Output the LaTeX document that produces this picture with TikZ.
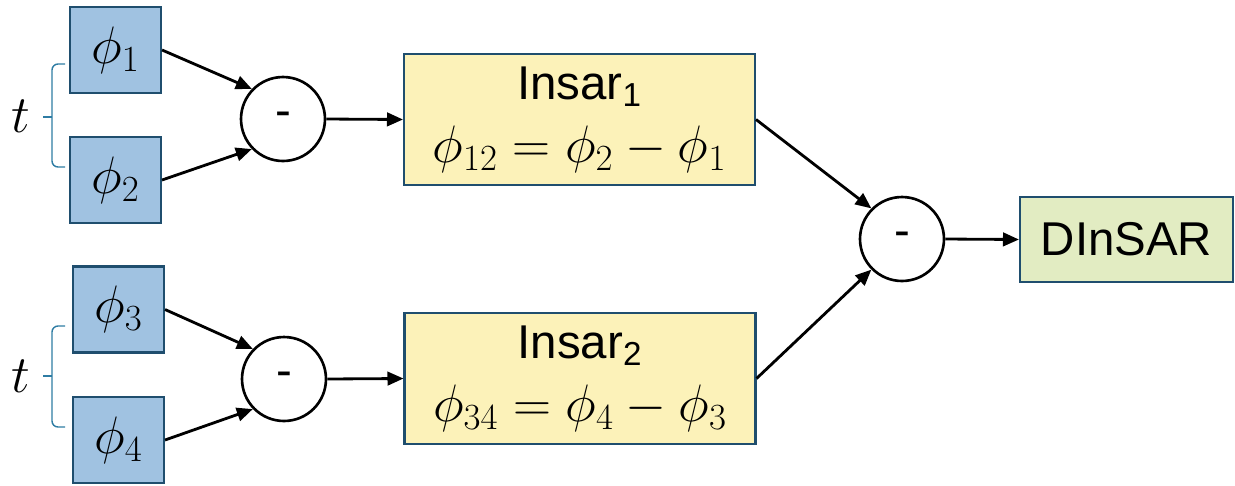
\RequirePackage{fix-cm}
\documentclass[tikz,border=0pt]{standalone}
\usepackage[no-math]{fontspec}
\newfontfamily\arialf{Liberation Sans}
\usetikzlibrary{arrows.meta}
\definecolor{bluefill}{HTML}{A0C2E1}
\definecolor{edgeblue}{HTML}{1F4E6E}
\definecolor{yellowfill}{HTML}{FCF2B9}
\definecolor{greenfill}{HTML}{E2ECC2}
\definecolor{bracecol}{HTML}{2E7CA3}
\newcommand{\mathbig}{\fontsize{30}{36}\selectfont}
\begin{document}
\begin{tikzpicture}[x=0.02cm,y=-0.02cm,
  bigfont/.style={font=\mathbig},
  phibox/.style={draw=edgeblue,fill=bluefill,line width=1.2pt,minimum width=1.82cm,minimum height=1.72cm,inner sep=0pt,bigfont},
  insarbox/.style={draw=edgeblue,fill=yellowfill,line width=1.2pt,minimum width=7.02cm,minimum height=2.62cm,inner sep=0pt,align=center,font=\fontsize{27}{35}\selectfont},
  resbox/.style={draw=edgeblue,fill=greenfill,line width=1.2pt,minimum width=4.26cm,minimum height=1.7cm,inner sep=0pt,font=\fontsize{27}{35}\selectfont\arialf},
  minus/.style={draw=black,fill=white,circle,line width=1.5pt,minimum size=1.68cm,inner sep=0pt,font=\fontsize{27}{35}\selectfont\arialf},
  conn/.style={line width=1.6pt,-{Triangle[length=0.32cm,width=0.27cm]}},
  tbrace/.style={draw=bracecol,line width=0.8pt,rounded corners=0.12cm},
  tlabel/.style={bigfont}
]
\useasboundingbox (0,0) rectangle (1235,485);
\node[phibox] (p1) at (115.5,50) {$\phi_1$};
\node[phibox] (p2) at (115.5,180) {$\phi_2$};
\node[phibox] (p3) at (118.5,309.5) {$\phi_3$};
\node[phibox] (p4) at (118.5,440) {$\phi_4$};
\node[minus] (c1) at (283,119) {-};
\node[minus] (c2) at (284,379) {-};
\node[minus] (c3) at (902,239) {-};
\node[insarbox] (i1) at (579.5,119.5) {{\arialf Insar\textsubscript{1}}\\[1pt]{\mathbig$\phi_{12}=\phi_2-\phi_1$}};
\node[insarbox] (i2) at (580,378.5) {{\arialf Insar\textsubscript{2}}\\[1pt]{\mathbig$\phi_{34}=\phi_4-\phi_3$}};
\node[resbox] (d) at (1126.5,239.5) {DInSAR};
\coordinate (b1top) at (65,64);
\coordinate (b1bot) at (65,167);
\coordinate (b1mid) at (52,117);
\coordinate (b1tip) at (43,117);
\coordinate (b2top) at (65,326);
\coordinate (b2bot) at (65,427);
\coordinate (b2mid) at (52,376);
\coordinate (b2tip) at (43,376);
\draw[tbrace] (b1top) -| (b1mid) |- (b1bot);
\draw[draw=bracecol,line width=0.8pt] (b1mid) -- (b1tip);
\draw[tbrace] (b2top) -| (b2mid) |- (b2bot);
\draw[draw=bracecol,line width=0.8pt] (b2mid) -- (b2tip);
\node[tlabel] (t1) at (21,116) {$t$};
\node[tlabel] (t2) at (21,376) {$t$};
\draw[conn] (p1.east) -- (c1.136);
\draw[conn] (p2.east) -- (c1.224);
\draw[conn] (p3.east) -- (c2.136);
\draw[conn] (p4.east) -- (c2.224);
\draw[conn] (c1.east) -- (i1.west);
\draw[conn] (c2.east) -- (i2.west);
\draw[conn] (i1.east) -- (c3.135);
\draw[conn] (i2.east) -- (c3.225);
\draw[conn] (c3.east) -- (d.west);
\end{tikzpicture}
\end{document}
